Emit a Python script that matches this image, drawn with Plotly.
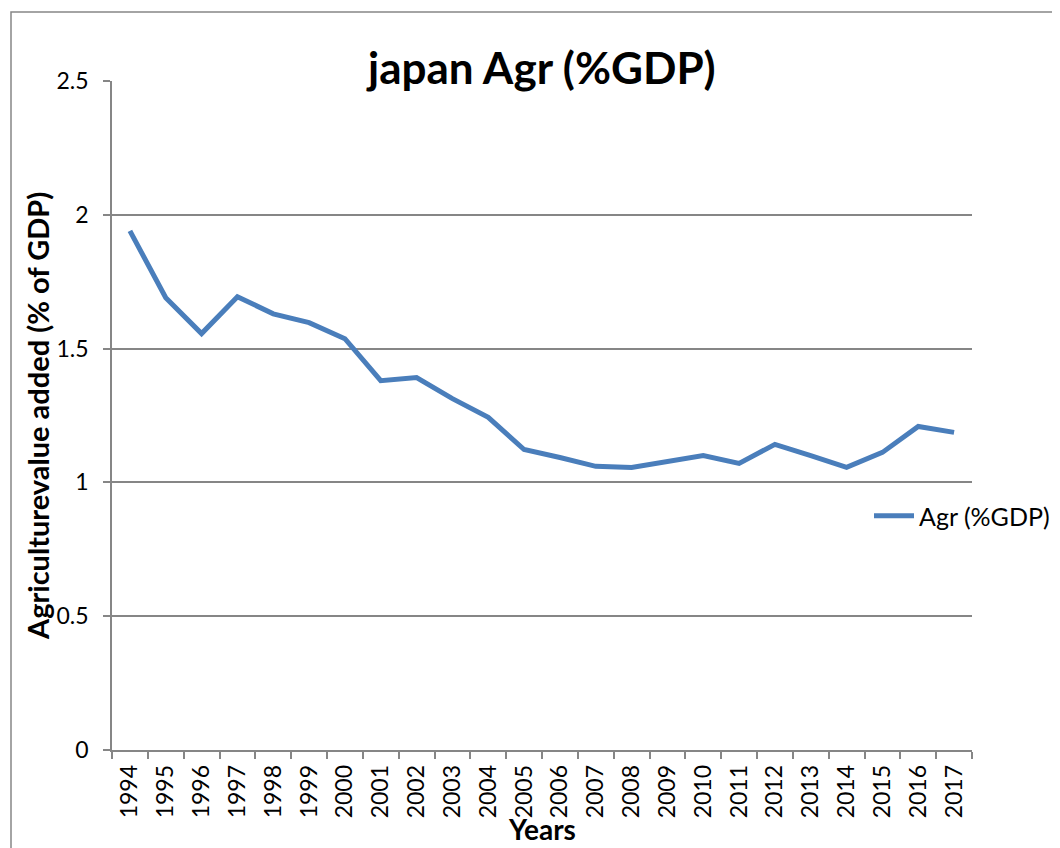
import plotly.graph_objects as go

years = [str(y) for y in range(1994, 2018)]
agr = [1.94, 1.69, 1.556, 1.694, 1.63, 1.597, 1.537, 1.38, 1.392, 1.313, 1.243, 1.123,
       1.093, 1.06, 1.056, 1.078, 1.10, 1.071, 1.142, 1.10, 1.056, 1.112, 1.209, 1.187]
y_ticks = [0, 0.5, 1, 1.5, 2, 2.5]
y_tick_labels = ["0", "0.5", "1", "1.5", "2", "2.5"]

FONT = "Lato, 'Noto Sans', sans-serif"
OFF = 8  # page body margin
W, H = 1060 - OFF, 848 - OFF
# plot area in page pixels
PL, PR, PT, PB = 112, 972, 81, 750
L, R, T, B = PL - OFF, PR - OFF, PT - OFF, PB - OFF

def px_x(p):
    return (p - PL) / (PR - PL)

def px_y(p):
    return (PB - p) / (PB - PT)

fig = go.Figure()
fig.add_trace(go.Scatter(
    x=years, y=agr, mode="lines", name="Agr (%GDP)",
    line=dict(color="#4a7ebb", width=5),
))

fig.update_layout(
    width=W, height=H,
    margin=dict(l=L, r=W - R, t=T, b=H - B, pad=0, autoexpand=False),
    paper_bgcolor="white", plot_bgcolor="white",
    font=dict(family=FONT, color="black", size=22),
    showlegend=True,
    legend=dict(x=px_x(869), y=px_y(516), xanchor="left", yanchor="middle",
                font=dict(size=25, family=FONT), bgcolor="rgba(0,0,0,0)",
                itemwidth=40),
    xaxis=dict(
        type="category", range=[-0.5, len(years) - 0.5],
        showgrid=False, showline=True, linecolor="#868686", linewidth=1.5,
        ticks="outside", ticklen=7, tickcolor="#868686", tickwidth=1.5,
        tickson="boundaries", tickangle=-90, tickfont=dict(size=23),
        zeroline=False, ticklabelstandoff=4, automargin=False,
    ),
    yaxis=dict(
        range=[0, 2.5], tickvals=y_ticks, ticktext=y_tick_labels,
        showgrid=True, gridcolor="#868686", gridwidth=1.5,
        showline=True, linecolor="#868686", linewidth=1.5,
        ticks="outside", ticklen=7, tickcolor="#868686", tickwidth=1.5,
        tickfont=dict(size=23), zeroline=False, ticklabelstandoff=10,
        automargin=False,
    ),
    annotations=[
        dict(text="<b>japan Agr (%GDP)</b>", xref="paper", yref="paper",
             x=px_x(541), y=px_y(67), xanchor="center", yanchor="middle",
             showarrow=False, font=dict(size=44, family=FONT)),
        dict(text="<b>Agriculturevalue added (% of GDP)</b>", xref="paper", yref="paper",
             x=px_x(37), y=px_y(416), xanchor="center", yanchor="middle",
             textangle=-90, showarrow=False, font=dict(size=29, family=FONT)),
        dict(text="<b>Years</b>", xref="paper", yref="paper",
             x=px_x(542), y=px_y(829), xanchor="center", yanchor="middle",
             showarrow=False, font=dict(size=28, family=FONT)),
    ],
    shapes=[
        dict(type="rect", xref="paper", yref="paper",
             x0=px_x(11), x1=px_x(1080), y0=px_y(12), y1=px_y(880),
             line=dict(color="#868686", width=1.5), fillcolor="rgba(0,0,0,0)",
             layer="below"),
    ],
)

fig.write_html("out.html")
